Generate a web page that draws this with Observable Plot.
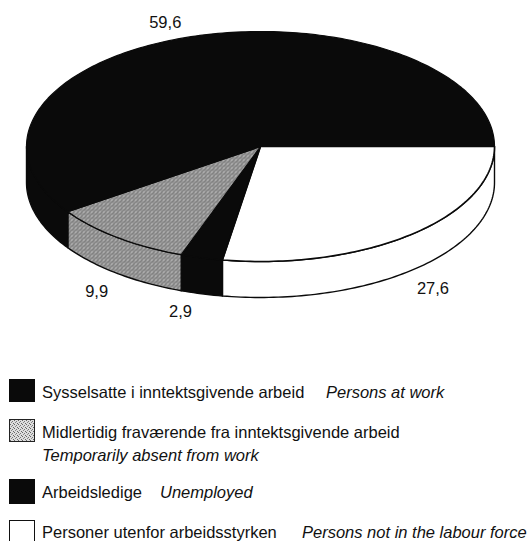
<!DOCTYPE html>
<html>
<head>
<meta charset="utf-8">
<script src="https://cdn.jsdelivr.net/npm/d3@7"></script>
<script src="https://cdn.jsdelivr.net/npm/@observablehq/plot@0.6"></script>
<style>
html,body{margin:0;padding:0;background:#fff;width:531px;height:541px;overflow:hidden}
body{font-family:"Liberation Sans",Arial,sans-serif;color:#111}
#chart svg{display:block}
#legend{position:relative;height:171px;width:531px;font-size:16.5px;line-height:23px}
.sw{position:absolute;left:9px;box-sizing:border-box;width:26px}
.txt{position:absolute;left:42px;white-space:nowrap}
.it{position:absolute;font-style:italic;white-space:nowrap}
</style>
</head>
<body>
<div id="chart"></div>
<div id="legend"></div>
<script>
// Data (start at 3 o'clock, clockwise, as drawn)
const values = [27.6, 2.9, 9.9, 59.6];
const valueLabels = ["27,6", "2,9", "9,9", "59,6"];
const fills = ["white", "#0a0a0a", "url(#stipple)", "#0a0a0a"];
const legendNo = ["Sysselsatte i inntektsgivende arbeid", "Midlertidig fraværende fra inntektsgivende arbeid", "Arbeidsledige", "Personer utenfor arbeidsstyrken"];
const legendEn = ["Persons at work", "Temporarily absent from work", "Unemployed", "Persons not in the labour force"];

const depth = 0.313; // pie thickness in radius units of the y scale
const total = d3.sum(values);
let acc = 0;
const slices = values.map((v, i) => {
  const a0 = acc / total * 2 * Math.PI; acc += v;
  const a1 = acc / total * 2 * Math.PI;
  return {i, v, a0, a1, mid: (a0 + a1) / 2, label: valueLabels[i], fill: fills[i]};
});
const arc = (a0, a1, dz = 0) => {
  const n = Math.max(2, Math.ceil((a1 - a0) / 0.02));
  return d3.range(n + 1).map(k => {
    const a = a0 + (a1 - a0) * k / n;
    return {x: Math.cos(a), y: Math.sin(a) + dz};
  });
};
const topPoly = s => [{x: 0, y: 0}, ...arc(s.a0, s.a1), {x: 0, y: 0}];
const sidePoly = s => {
  const a0 = s.a0, a1 = Math.min(s.a1, Math.PI);
  const a = arc(a0, a1), b = arc(a0, a1, depth).reverse();
  return [...a, ...b, a[0]];
};
const front = slices.filter(s => s.a0 < Math.PI);
const labels = slices.map(s => {
  const c = Math.cos(s.mid), n = Math.sin(s.mid);
  return {
    x: c + Math.sign(c) * (n > 0 ? 0.09 : 0.11),
    y: n + (n > 0 ? depth + 0.16 : -0.12),
    text: s.label
  };
});

const defs = () => d3.create("svg:defs").html(`
  <pattern id="stipple" width="4" height="4" patternUnits="userSpaceOnUse" shape-rendering="crispEdges">
    <rect width="4" height="4" fill="#e2e2e2"/>
    <rect x="0" y="0" width="1" height="1" fill="#222"/>
    <rect x="2" y="0" width="1" height="1" fill="#666"/>
    <rect x="1" y="1" width="1" height="1" fill="#444"/>
    <rect x="3" y="1" width="1" height="1" fill="#222"/>
    <rect x="0" y="2" width="1" height="1" fill="#555"/>
    <rect x="2" y="2" width="1" height="1" fill="#333"/>
    <rect x="1" y="3" width="1" height="1" fill="#222"/>
    <rect x="3" y="3" width="1" height="1" fill="#888"/>
  </pattern>`).node();

const plot = Plot.plot({
  width: 531,
  height: 370,
  margin: 0,
  style: {background: "white", overflow: "visible"},
  x: {domain: [-1, 1], range: [26, 494], axis: null},
  y: {domain: [-1, 1], range: [31, 261], axis: null},
  marks: [
    defs,
    ...front.map(s => Plot.line(sidePoly(s), {x: "x", y: "y", fill: s.fill, stroke: "#0a0a0a", strokeWidth: 1.4})),
    ...slices.map(s => Plot.line(topPoly(s), {x: "x", y: "y", fill: s.fill, stroke: "#0a0a0a", strokeWidth: s.fill === "white" ? 1.6 : 1.2})),
    Plot.text(labels, {x: "x", y: "y", text: "text", fontSize: 16.5, fontFamily: "Liberation Sans", fill: "#111"})
  ]
});
document.getElementById("chart").append(plot);

// Legend below the chart
const legend = document.getElementById("legend");
const swatch = (top, h, style) => `<div class="sw" style="top:${top}px;height:${h}px;${style}"></div>`;
const stippleUri = "data:image/svg+xml," + encodeURIComponent(
  `<svg xmlns="http://www.w3.org/2000/svg" width="4" height="4" shape-rendering="crispEdges"><rect width="4" height="4" fill="#ddd"/><rect width="1" height="1" fill="#666"/><rect x="2" y="1" width="1" height="1" fill="#777"/><rect x="1" y="2" width="1" height="1" fill="#888"/><rect x="3" y="3" width="1" height="1" fill="#666"/></svg>`);
legend.innerHTML =
  swatch(9, 23, "background:#0a0a0a;") +
  `<div class="txt" style="top:11px">${legendNo[0]}</div><div class="it" style="left:326px;top:11px">${legendEn[0]}</div>` +
  swatch(49, 23, `background:url('${stippleUri}');border:1.5px solid #222;`) +
  `<div class="txt" style="top:51px">${legendNo[1]}</div><div class="txt" style="top:74px;font-style:italic">${legendEn[1]}</div>` +
  swatch(109, 25, "background:#0a0a0a;") +
  `<div class="txt" style="top:111px">${legendNo[2]}</div><div class="it" style="left:160px;top:111px">${legendEn[2]}</div>` +
  swatch(150, 21, "background:#fff;border:1.5px solid #111;border-bottom:none;") +
  `<div class="txt" style="top:151px">${legendNo[3]}</div><div class="it" style="left:302px;top:151px">${legendEn[3]}</div>`;
</script>
</body>
</html>
